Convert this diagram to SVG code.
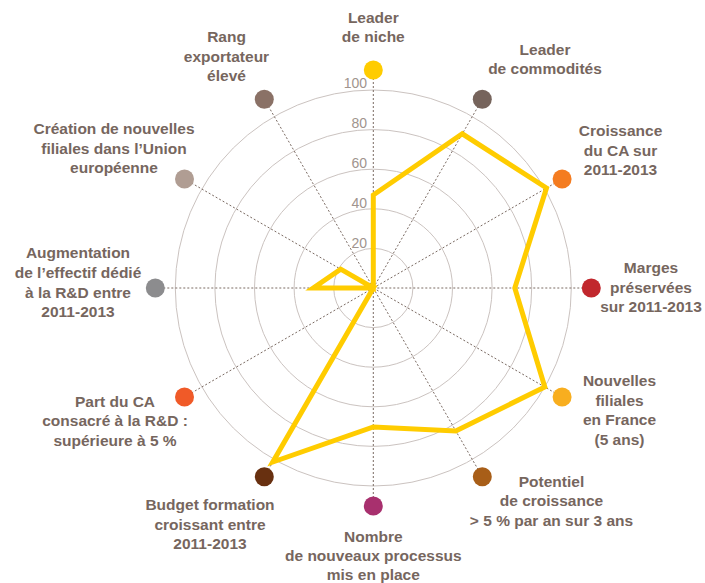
<svg xmlns="http://www.w3.org/2000/svg" width="705" height="583" viewBox="0 0 705 583">
<style>
.ring{fill:none;stroke:#cbc3c0;stroke-width:1}
.axis{stroke:#7a6a62;stroke-width:1;stroke-dasharray:2 2;fill:none}
.lbl{font-family:"Liberation Sans",Arial,sans-serif;font-weight:bold;font-size:15.5px;fill:#76665e;text-anchor:middle}
.num{font-family:"Liberation Sans",Arial,sans-serif;font-size:14px;fill:#a0948e;text-anchor:end}
.data{fill:none;stroke:#ffcc00;stroke-width:5;stroke-linejoin:miter;stroke-miterlimit:10}
</style>
<rect width="705" height="583" fill="#ffffff"/>
<g id="grid">
<circle class="ring" cx="373.3" cy="288" r="39.6"/>
<circle class="ring" cx="373.3" cy="288" r="79.2"/>
<circle class="ring" cx="373.3" cy="288" r="118.8"/>
<circle class="ring" cx="373.3" cy="288" r="158.4"/>
<circle class="ring" cx="373.3" cy="288" r="198"/>
</g>
<g id="connectors">
<line class="axis" x1="373.3" y1="288" x2="373.3" y2="70"/>
<line class="axis" x1="373.3" y1="288" x2="482.3" y2="99.2"/>
<line class="axis" x1="373.3" y1="288" x2="562.1" y2="179"/>
<line class="axis" x1="373.3" y1="288" x2="591.3" y2="288"/>
<line class="axis" x1="373.3" y1="288" x2="562.1" y2="397"/>
<line class="axis" x1="373.3" y1="288" x2="482.3" y2="476.8"/>
<line class="axis" x1="373.3" y1="288" x2="373.3" y2="506"/>
<line class="axis" x1="373.3" y1="288" x2="264.3" y2="476.8"/>
<line class="axis" x1="373.3" y1="288" x2="184.5" y2="397"/>
<line class="axis" x1="373.3" y1="288" x2="155.3" y2="288"/>
<line class="axis" x1="373.3" y1="288" x2="184.5" y2="179"/>
<line class="axis" x1="373.3" y1="288" x2="264.3" y2="99.2"/>
</g>
<g id="scale">
<text class="num" x="367" y="88">100</text>
<text class="num" x="367" y="128">80</text>
<text class="num" x="367" y="168">60</text>
<text class="num" x="367" y="208">40</text>
<text class="num" x="367" y="248">20</text>
</g>
<g id="series">
<polygon class="data" points="373.3,195 462.3,133.8 546.5,188 514.8,288 544.8,387 455.8,430.9 373.3,427 272.8,462 373.3,288 313.3,288 340.7,269.2 373.3,288"/>
</g>
<g id="n-leader-niche">
<circle cx="373.3" cy="70" r="9.5" fill="#ffcc00"/>
<text class="lbl" x="373.3" y="23">Leader</text>
<text class="lbl" x="373.3" y="42">de niche</text>
</g>
<g id="n-leader-commodites">
<circle cx="482.3" cy="99.2" r="9.5" fill="#76645c"/>
<text class="lbl" x="545" y="55">Leader</text>
<text class="lbl" x="545" y="74">de commodités</text>
</g>
<g id="n-croissance-ca">
<circle cx="562.1" cy="179" r="9.5" fill="#f47c20"/>
<text class="lbl" x="620.5" y="136">Croissance</text>
<text class="lbl" x="620.5" y="155.5">du CA sur</text>
<text class="lbl" x="620.5" y="175">2011-2013</text>
</g>
<g id="n-marges">
<circle cx="591.3" cy="288" r="9.5" fill="#c1272d"/>
<text class="lbl" x="651" y="273">Marges</text>
<text class="lbl" x="651" y="292.5">préservées</text>
<text class="lbl" x="651" y="312">sur 2011-2013</text>
</g>
<g id="n-filiales-france">
<circle cx="562.1" cy="397" r="9.5" fill="#f8ae1f"/>
<text class="lbl" x="619.5" y="386">Nouvelles</text>
<text class="lbl" x="619.5" y="405.5">filiales</text>
<text class="lbl" x="619.5" y="425">en France</text>
<text class="lbl" x="619.5" y="444.5">(5 ans)</text>
</g>
<g id="n-potentiel">
<circle cx="482.3" cy="476.8" r="9.5" fill="#a85e18"/>
<text class="lbl" x="551.5" y="486.5">Potentiel</text>
<text class="lbl" x="551.5" y="506">de croissance</text>
<text class="lbl" x="551.5" y="525.5">&gt; 5 % par an sur 3 ans</text>
</g>
<g id="n-nombre">
<circle cx="373.3" cy="506" r="9.5" fill="#a8306e"/>
<text class="lbl" x="373.3" y="542">Nombre</text>
<text class="lbl" x="373.3" y="561">de nouveaux processus</text>
<text class="lbl" x="373.3" y="580">mis en place</text>
</g>
<g id="n-budget">
<circle cx="264.3" cy="476.8" r="9.5" fill="#683010"/>
<text class="lbl" x="210" y="510">Budget formation</text>
<text class="lbl" x="210" y="529.5">croissant entre</text>
<text class="lbl" x="210" y="548.5">2011-2013</text>
</g>
<g id="n-part-ca">
<circle cx="184.5" cy="397" r="9.5" fill="#f05a28"/>
<text class="lbl" x="115" y="406.5">Part du CA</text>
<text class="lbl" x="115" y="426">consacré à la R&amp;D :</text>
<text class="lbl" x="115" y="445.5">supérieure à 5 %</text>
</g>
<g id="n-augmentation">
<circle cx="155.3" cy="288" r="9.5" fill="#8c8c8e"/>
<text class="lbl" x="78" y="258">Augmentation</text>
<text class="lbl" x="78" y="278">de l’effectif dédié</text>
<text class="lbl" x="78" y="297.5">à la R&amp;D entre</text>
<text class="lbl" x="78" y="317">2011-2013</text>
</g>
<g id="n-creation">
<circle cx="184.5" cy="179" r="9.5" fill="#b09d93"/>
<text class="lbl" x="114" y="134">Création de nouvelles</text>
<text class="lbl" x="114" y="153.5">filiales dans l’Union</text>
<text class="lbl" x="114" y="173">européenne</text>
</g>
<g id="n-rang">
<circle cx="264.3" cy="99.2" r="9.5" fill="#8a7166"/>
<text class="lbl" x="226.5" y="42">Rang</text>
<text class="lbl" x="226.5" y="61.5">exportateur</text>
<text class="lbl" x="226.5" y="81">élevé</text>
</g>
</svg>
